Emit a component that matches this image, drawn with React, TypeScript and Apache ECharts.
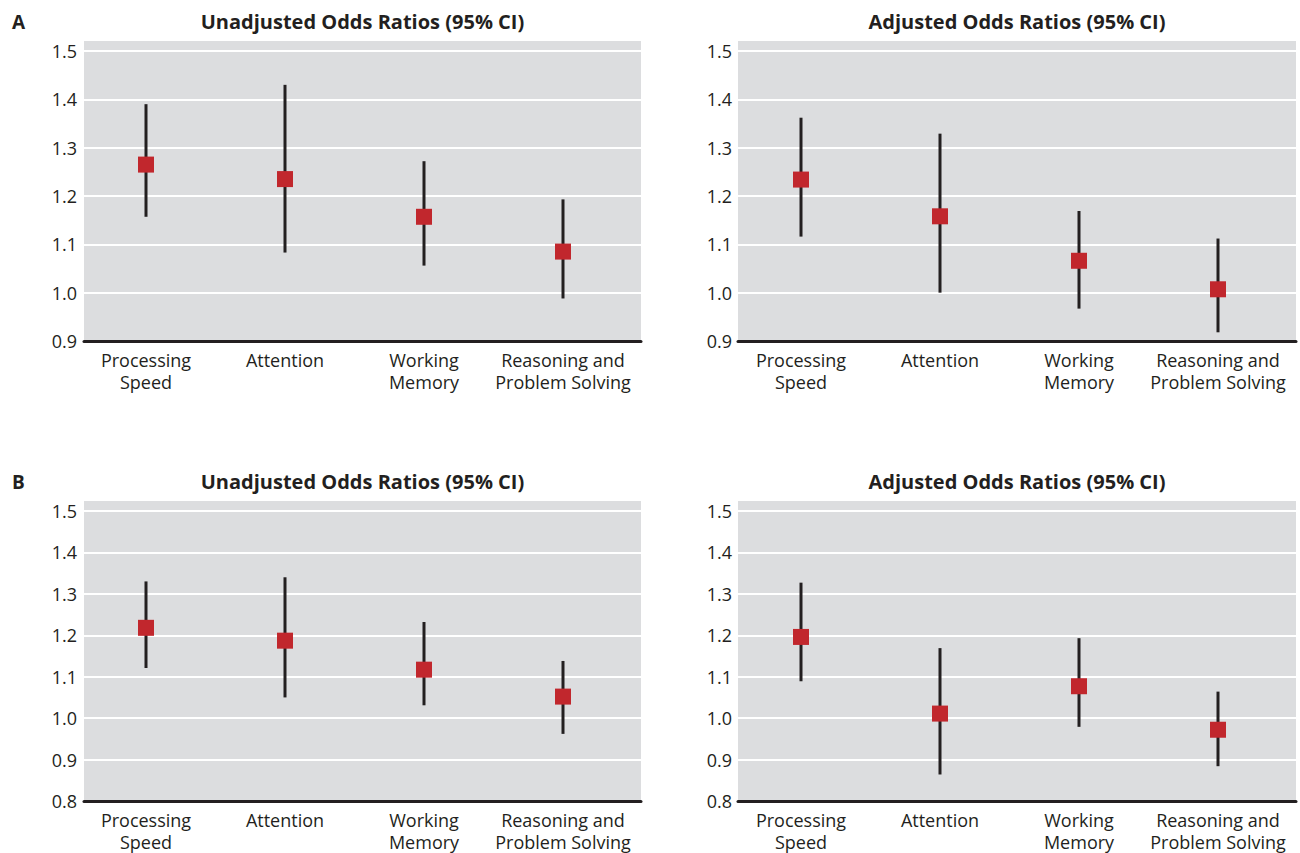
import React, { useEffect, useRef } from "react";
import * as echarts from "echarts";

const categories = [
  "Processing\nSpeed",
  "Attention",
  "Working\nMemory",
  "Reasoning and\nProblem Solving",
];

// Panel A – unadjusted
const aUnadjOR = [1.265, 1.235, 1.157, 1.085];
const aUnadjLo = [1.157, 1.083, 1.056, 0.988];
const aUnadjHi = [1.39, 1.43, 1.272, 1.193];
// Panel A – adjusted
const aAdjOR = [1.234, 1.158, 1.066, 1.007];
const aAdjLo = [1.116, 1.0, 0.967, 0.918];
const aAdjHi = [1.362, 1.329, 1.169, 1.112];
// Panel B – unadjusted
const bUnadjOR = [1.218, 1.187, 1.117, 1.052];
const bUnadjLo = [1.121, 1.05, 1.031, 0.962];
const bUnadjHi = [1.33, 1.34, 1.232, 1.138];
// Panel B – adjusted
const bAdjOR = [1.196, 1.011, 1.077, 0.972];
const bAdjLo = [1.089, 0.864, 0.979, 0.884];
const bAdjHi = [1.327, 1.169, 1.193, 1.064];

const titleUnadj = "Unadjusted Odds Ratios (95% CI)";
const titleAdj = "Adjusted Odds Ratios (95% CI)";
const panelLetters = ["A", "B"];

const yMinA = 0.9;
const yMaxA = 1.5207;
const yMinB = 0.8;
const yMaxB = 1.5241;

const FONT = "'Open Sans', 'Noto Sans', sans-serif";
const INK = "#231f20";
const GRAY = "#dcdddf";
const RED = "#c1272d";

export default function App() {
  const ref = useRef<HTMLDivElement>(null);

  useEffect(() => {
    if (!ref.current) return;
    const chart = echarts.init(ref.current, null, { renderer: "svg" });

    const panels = [
      { title: titleUnadj, or: aUnadjOR, lo: aUnadjLo, hi: aUnadjHi, bgLeft: 84, bgWidth: 557, dataLeft: 76.5, top: 41, height: 300, min: yMinA, max: yMaxA, labelMargin: 7 },
      { title: titleAdj, or: aAdjOR, lo: aAdjLo, hi: aAdjHi, bgLeft: 738, bgWidth: 558, dataLeft: 731.5, top: 41, height: 300, min: yMinA, max: yMaxA, labelMargin: 6 },
      { title: titleUnadj, or: bUnadjOR, lo: bUnadjLo, hi: bUnadjHi, bgLeft: 84, bgWidth: 557, dataLeft: 76.5, top: 501, height: 300, min: yMinB, max: yMaxB, labelMargin: 7 },
      { title: titleAdj, or: bAdjOR, lo: bAdjLo, hi: bAdjHi, bgLeft: 738, bgWidth: 558, dataLeft: 731.5, top: 501, height: 300, min: yMinB, max: yMaxB, labelMargin: 6 },
    ];

    const grid: any[] = [];
    const xAxis: any[] = [];
    const yAxis: any[] = [];
    const series: any[] = [];
    const graphic: any[] = [];

    panels.forEach((p, i) => {
      const bg = i * 2;
      const dg = i * 2 + 1;
      grid.push({
        left: p.bgLeft, top: p.top, width: p.bgWidth, height: p.height,
        show: true, backgroundColor: GRAY, borderWidth: 0,
      });
      grid.push({
        left: p.dataLeft, top: p.top, width: 556, height: p.height,
        show: false,
      });
      xAxis.push({
        type: "value", gridIndex: bg, min: 0, max: 1,
        axisLine: { show: true, onZero: false, lineStyle: { color: INK, width: 3 } },
        axisTick: { show: false }, axisLabel: { show: false }, splitLine: { show: false },
      });
      xAxis.push({
        type: "category", gridIndex: dg, data: categories,
        axisLine: { show: false }, axisTick: { show: false }, splitLine: { show: false },
        axisLabel: {
          show: true, interval: 0, margin: 8, color: INK, fontSize: 18,
          fontFamily: FONT, lineHeight: 22, align: "center", verticalAlign: "top",
        },
      });
      yAxis.push({
        type: "value", gridIndex: bg, min: p.min, max: p.max, interval: 0.1,
        axisLine: { show: false }, axisTick: { show: false },
        axisLabel: {
          show: true, showMaxLabel: false, margin: p.labelMargin, color: INK,
          fontSize: 18, fontFamily: FONT,
          formatter: (v: number) => v.toFixed(1),
        },
        splitLine: { show: true, showMinLine: false, showMaxLine: false, lineStyle: { color: "#ffffff", width: 2 } },
      });
      yAxis.push({
        type: "value", gridIndex: dg, min: p.min, max: p.max, show: false,
        splitLine: { show: false },
      });

      series.push({
        type: "custom", xAxisIndex: dg, yAxisIndex: dg, z: 3,
        data: categories.map((_, k) => [k, p.lo[k], p.hi[k]]),
        encode: { x: 0, y: [1, 2] },
        renderItem: (_params: any, api: any) => {
          const x = api.value(0);
          const a = api.coord([x, api.value(1)]);
          const b = api.coord([x, api.value(2)]);
          return {
            type: "line",
            shape: { x1: a[0], y1: a[1], x2: b[0], y2: b[1] },
            style: { stroke: INK, lineWidth: 3 },
          };
        },
      });
      series.push({
        type: "scatter", xAxisIndex: dg, yAxisIndex: dg, z: 4,
        symbol: "rect", symbolSize: 16,
        itemStyle: { color: RED, opacity: 1 },
        emphasis: { disabled: true },
        data: p.or,
      });

      graphic.push({
        type: "text",
        x: p.bgLeft + p.bgWidth / 2,
        y: p.top - 20,
        style: {
          text: p.title, fill: INK, fontSize: 20, fontWeight: "bold",
          fontFamily: FONT, align: "center", verticalAlign: "middle",
        },
      });
    });

    panelLetters.forEach((L, i) => {
      graphic.push({
        type: "text", x: 12, y: i === 0 ? 22 : 482,
        style: {
          text: L, fill: INK, fontSize: 19, fontWeight: "bold",
          fontFamily: FONT, align: "left", verticalAlign: "middle",
        },
      });
    });

    chart.setOption({
      animation: false,
      backgroundColor: "#ffffff",
      textStyle: { fontFamily: FONT },
      grid, xAxis, yAxis, series, graphic,
    });

    return () => chart.dispose();
  }, []);

  return (
    <div
      ref={ref}
      style={{ position: "fixed", left: 0, top: 0, width: 1300, height: 853 }}
    />
  );
}
